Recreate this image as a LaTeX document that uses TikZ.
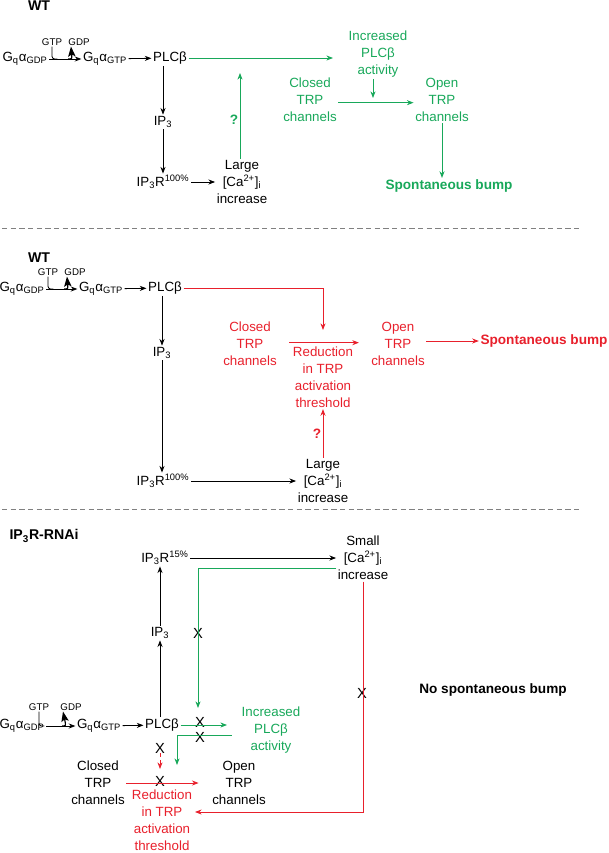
\documentclass[tikz,border=0pt]{standalone}
\usepackage{fontspec}
\setmainfont{Liberation Sans}
\usetikzlibrary{positioning,arrows.meta}
\definecolor{trpgreen}{RGB}{24,168,90}
\definecolor{trpred}{RGB}{232,32,44}

\begin{document}
\begin{tikzpicture}[x=0.75pt, y=-0.75pt, >={Stealth[length=5pt,width=3.8pt]}, line width=0.6pt]
    % Styles
    \tikzstyle{txt}=[align=center, inner sep=1pt, font=\fontsize{10}{12.75}\selectfont]
    \tikzstyle{small}=[inner sep=0.5pt, font=\fontsize{7.3}{8}\selectfont]
    \tikzstyle{title}=[inner sep=0pt, font=\fontsize{10.6}{12}\selectfont\bfseries]
    \tikzstyle{bump}=[inner sep=1pt, font=\fontsize{10.2}{12}\selectfont\bfseries]
    \tikzstyle{xmark}=[inner sep=0pt, font=\fontsize{11}{12}\selectfont]
    \tikzstyle{spike}=[line width=0.9pt, -{Stealth[length=7.5pt,width=5.5pt,inset=1.5pt]}]
    \tikzstyle{sep}=[gray, dash pattern=on 4pt off 2.5pt]

    \useasboundingbox (0,0) rectangle (608,853);

    % Top panel: WT
    \node (titleA) [title] at (39,6) {WT};
    \node (gdpA) [txt] at (25,59) {G\textsubscript{q}α\textsubscript{GDP}};
    \node (gtpA) [txt] at (105,59) {G\textsubscript{q}α\textsubscript{GTP}};
    \node (plcA) [txt] at (170,58) {PLCβ};
    \node (gtpLA) [small] at (52,42) {GTP};
    \node (gdpLA) [small] at (79,42) {GDP};
    \node (ip3A) [txt] at (163,122) {IP\textsubscript{3}};
    \node (ip3rA) [txt] at (163,182) {IP\textsubscript{3}R\textsuperscript{100\%}};
    \node (caA) [txt] at (242,182) {Large\\{[}Ca\textsuperscript{2+}]\textsubscript{i}\\increase};
    \node (qA) [bump, text=trpgreen] at (234,120) {?};
    \node (incA) [txt, text=trpgreen] at (378,54) {Increased\\PLCβ\\activity};
    \node (closedA) [txt, text=trpgreen] at (310,100) {Closed\\TRP\\channels};
    \node (openA) [txt, text=trpgreen] at (442,100) {Open\\TRP\\channels};
    \node (bumpA) [bump, text=trpgreen] at (449,186) {Spontaneous bump};
    \coordinate (plcEndA) at (333,58);
    \coordinate (qTopA) at (240,73);
    \coordinate (incEndA) at (373,98);

    \draw[->] (gdpA) -- (gtpA);
    \draw[rounded corners=2pt] (gtpLA.south) |- ([xshift=4pt]gtpLA.south |- gdpA.center);
    \draw[spike] ([xshift=-10pt]gtpA.west) .. controls ([xshift=-7pt]gtpA.west) .. ([xshift=-6pt]gdpLA.south);
    \draw[->] (gtpA) -- (plcA);
    \draw[->] (plcA.south -| ip3A) -- (ip3A);
    \draw[->] (ip3A) -- (ip3rA);
    \draw[->] (ip3rA) -- (caA);
    \draw[->, trpgreen] (plcA) -- (plcEndA);
    \draw[->, trpgreen] (caA.north -| qTopA) -- (qTopA);
    \draw[->, trpgreen] (incA.south -| incEndA) -- (incEndA);
    \draw[->, trpgreen] ([yshift=-2pt]closedA.east) -- ([yshift=-2pt]openA.west);
    \draw[->, trpgreen] (openA.south) -- (openA.south |- bumpA.north);

    \draw[sep] (2,228) -- (580,228);

    % Middle panel: WT
    \node (titleB) [title] at (39,258) {WT};
    \node (gdpB) [txt] at (22,289) {G\textsubscript{q}α\textsubscript{GDP}};
    \node (gtpB) [txt] at (101,289) {G\textsubscript{q}α\textsubscript{GTP}};
    \node (plcB) [txt] at (165,288) {PLCβ};
    \node (gtpLB) [small] at (48,272) {GTP};
    \node (gdpLB) [small] at (75,272) {GDP};
    \node (ip3B) [txt] at (162,353) {IP\textsubscript{3}};
    \node (ip3rB) [txt] at (163,481) {IP\textsubscript{3}R\textsuperscript{100\%}};
    \node (caB) [txt] at (323,481) {Large\\{[}Ca\textsuperscript{2+}]\textsubscript{i}\\increase};
    \node (qB) [bump, text=trpred] at (317,434) {?};
    \node (closedB) [txt, text=trpred] at (250,344) {Closed\\TRP\\channels};
    \node (redB) [txt, text=trpred] at (323,377) {Reduction\\in TRP\\activation\\threshold};
    \node (openB) [txt, text=trpred] at (398,344) {Open\\TRP\\channels};
    \node (bumpB) [bump, text=trpred] at (544,341) {Spontaneous bump};
    \coordinate (redTopB) at (323,330);

    \draw[->] (gdpB) -- (gtpB);
    \draw[rounded corners=2pt] (gtpLB.south) |- ([xshift=4pt]gtpLB.south |- gdpB.center);
    \draw[spike] ([xshift=-10pt]gtpB.west) .. controls ([xshift=-7pt]gtpB.west) .. ([xshift=-6pt]gdpLB.south);
    \draw[->] (gtpB) -- (plcB);
    \draw[->] (plcB.south -| ip3B) -- (ip3B);
    \draw[->] (ip3B) -- (ip3B |- ip3rB.north);
    \draw[->] (ip3rB) -- (caB);
    \draw[->, trpred] (plcB) -| (redTopB);
    \draw[->, trpred, shorten <=8pt, shorten >=8pt] ([yshift=1pt]closedB.east) -- ([yshift=1pt]openB.west);
    \draw[->, trpred] (caB) -- (redB);
    \draw[->, trpred] (openB.east |- bumpB.west) -- (bumpB.west);

    \draw[sep] (2,509) -- (580,509);

    % Bottom panel: IP3R-RNAi
    \node (titleC) [title] at (44,536) {IP\textsubscript{3}R-RNAi};
    \node (ip3rC) [txt] at (165,558) {IP\textsubscript{3}R\textsuperscript{15\%}};
    \node (smallC) [txt] at (363,558) {Small\\{[}Ca\textsuperscript{2+}]\textsubscript{i}\\increase};
    \node (ip3C) [txt] at (160,633) {IP\textsubscript{3}};
    \node (gdpC) [txt] at (22,726) {G\textsubscript{q}α\textsubscript{GDP}};
    \node (gtpC) [txt] at (99,726) {G\textsubscript{q}α\textsubscript{GTP}};
    \node (plcC) [txt] at (162,725) {PLCβ};
    \node (gtpLC) [small] at (39,707) {GTP};
    \node (gdpLC) [small] at (71,707) {GDP};
    \node (incC) [txt, text=trpgreen] at (271,730) {Increased\\PLCβ\\activity};
    \node (closedC) [txt] at (98,783) {Closed\\TRP\\channels};
    \node (openC) [txt] at (239,783) {Open\\TRP\\channels};
    \node (redC) [txt, text=trpred] at (162,820) {Reduction\\in TRP\\activation\\threshold};
    \node (noC) [bump] at (493,690) {No spontaneous bump};
    \node (xa) [xmark] at (198,633) {X};
    \node (xb) [xmark] at (200,722) {X};
    \node (xc) [xmark] at (200,737) {X};
    \node (xd) [xmark] at (160,748) {X};
    \node (xe) [xmark] at (160,781) {X};
    \node (xf) [xmark] at (362,693) {X};
    \coordinate (gEndC) at (198,708);
    \coordinate (gEnd2C) at (227,725);
    \coordinate (gEnd3C) at (177,765);
    \coordinate (rDotC) at (160,769);
    \coordinate (rEndC) at (195,812);

    \draw[->] (gdpC) -- (gtpC);
    \draw[rounded corners=2pt] (gtpLC.south) |- ([xshift=4pt]gtpLC.south |- gdpC.center);
    \draw[spike] ([xshift=-10pt]gtpC.west) .. controls ([xshift=-7pt]gtpC.west) .. ([xshift=-6pt]gdpLC.south);
    \draw[->] (gtpC) -- (plcC);
    \draw[->] (plcC.north -| ip3C) -- (ip3C);
    \draw[->] (ip3C.north) -- (ip3C.north |- ip3rC.south);
    \draw[->] (ip3rC) -- (smallC);
    \draw[->, trpgreen] ([yshift=-8pt]smallC.west) -| (gEndC);
    \draw[->, trpgreen] (plcC) -- (gEnd2C);
    \draw[->, trpgreen] ([xshift=-6pt, yshift=-4pt]incC.west) -| (gEnd3C);
    \draw[->, trpred, densely dashed] (xd.south) -- (rDotC);
    \draw[->, trpred, shorten >=9pt] (closedC) -- (openC);
    \draw[->, trpred] (smallC) |- (rEndC);

\end{tikzpicture}
\end{document}
